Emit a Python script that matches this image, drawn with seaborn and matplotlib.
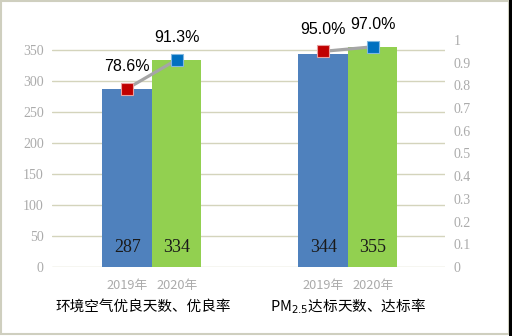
import matplotlib
matplotlib.use("Agg")
import matplotlib.pyplot as plt
import matplotlib.transforms as mtrans
from matplotlib.patches import Rectangle
import seaborn as sns
import pandas as pd

# ---- data ----
groups = ["环境空气优良天数、优良率", "PM$_{2.5}$达标天数、达标率"]
years = ["2019年", "2020年"]
days_2019 = [287, 344]
days_2020 = [334, 355]
rate_2019 = [0.786, 0.950]
rate_2020 = [0.913, 0.970]
rate_labels_2019 = ["78.6%", "95.0%"]
rate_labels_2020 = ["91.3%", "97.0%"]
left_ticks = [0, 50, 100, 150, 200, 250, 300, 350]
right_ticks = [0, 0.1, 0.2, 0.3, 0.4, 0.5, 0.6, 0.7, 0.8, 0.9, 1]
right_tick_labels = ["0", "0.1", "0.2", "0.3", "0.4", "0.5", "0.6", "0.7", "0.8", "0.9", "1"]

df = pd.DataFrame({
    "group": groups * 2,
    "year": [years[0]] * 2 + [years[1]] * 2,
    "days": days_2019 + days_2020,
})

sns.set_theme(style="white")
plt.rcParams["font.family"] = ["Noto Sans CJK SC", "DejaVu Sans"]

fig = plt.figure(figsize=(5.12, 3.36), dpi=100)
fig.patch.set_facecolor("white")
ax = fig.add_axes([52 / 512, 1 - 267 / 336, (445 - 52) / 512, (267 - 40) / 336])

palette = {years[0]: "#4F81BD", years[1]: "#92D050"}
sns.barplot(data=df, x="group", y="days", hue="year", order=groups, hue_order=years,
            palette=palette, width=0.505, saturation=1, ax=ax, legend=False, zorder=2,
            linewidth=0)

ax.set_xlim(-0.51, 1.495)
ax.set_ylim(0, 366)
ax.set_yticks(left_ticks)
ax.set_yticklabels([str(t) for t in left_ticks], family="Liberation Serif", fontsize=10, color="#ABABAB")
ax.tick_params(axis="y", length=0, pad=6)
ax.grid(axis="y", color="#D4D4BC", linewidth=1, zorder=0)
ax.set_axisbelow(True)
for s in ax.spines.values():
    s.set_visible(False)
ax.set_xlabel("")
ax.set_ylabel("")

# bar centers by hue
patches = [p for p in ax.patches if p.get_width() > 0]
centers_2019 = sorted([p.get_x() + p.get_width() / 2 for p in patches[:2]])
centers_2020 = sorted([p.get_x() + p.get_width() / 2 for p in patches[2:4]])

# year tick labels
xt = []
xl = []
for c19, c20 in zip(centers_2019, centers_2020):
    xt += [c19, c20]
    xl += years
ax.set_xticks(xt)
ax.set_xticklabels(xl, fontsize=9.2, color="#ABABAB")
ax.tick_params(axis="x", length=0, pad=9)

# value labels inside bars
trans = mtrans.blended_transform_factory(ax.transData, ax.transAxes)
for cs, vals in [(centers_2019, days_2019), (centers_2020, days_2020)]:
    for c, v in zip(cs, vals):
        ax.text(c, 19 / 227, str(v), transform=trans, ha="center", va="center",
                family="Liberation Serif", fontsize=13, color="#1a1a1a")

# group labels
label_shift = [-6.5, 0]
for i, g in enumerate(groups):
    ax.annotate(g, xy=(i, 0), xycoords=trans, xytext=(label_shift[i], -28.5), textcoords="offset points",
                ha="center", va="center", fontsize=10.5, color="black")

# secondary axis
ax2 = ax.twinx()
ax2.set_ylim(0, 1)
ax2.set_yticks(right_ticks)
ax2.set_yticklabels(right_tick_labels, family="Liberation Serif", fontsize=10, color="#ABABAB")
ax2.tick_params(axis="y", length=0, pad=6)
for s in ax2.spines.values():
    s.set_visible(False)
ax2.grid(False)

for i in range(len(groups)):
    xs = [centers_2019[i], centers_2020[i]]
    ys = [rate_2019[i], rate_2020[i]]
    ax2.plot(xs, ys, color="#A5A5A5", linewidth=2.3, zorder=3, solid_capstyle="butt")
    ax2.plot([xs[0]], [ys[0]], marker="s", markersize=8.5, color="#C00000",
             markeredgecolor="#E8A0A0", markeredgewidth=0.8, linestyle="none", zorder=4)
    ax2.plot([xs[1]], [ys[1]], marker="s", markersize=8.5, color="#0070C0",
             markeredgecolor="#80B8E0", markeredgewidth=0.8, linestyle="none", zorder=4)
    for x, y, lab in [(xs[0], ys[0], rate_labels_2019[i]), (xs[1], ys[1], rate_labels_2020[i])]:
        ax2.annotate(lab, xy=(x, y), xytext=(0, 16), textcoords="offset points",
                     ha="center", va="center", fontsize=11.5, color="black",
                     family=["Liberation Sans", "DejaVu Sans"], annotation_clip=False)

# frame
fig.patches.append(Rectangle((0.002, 0.006), 0.992, 0.99, transform=fig.transFigure,
                             fill=False, edgecolor="#CFCFBF", linewidth=1.5))
fig.patches.append(Rectangle((509 / 512, 0), 3 / 512, 1, transform=fig.transFigure,
                             facecolor="black", edgecolor="none"))

fig.savefig("out.png", dpi=100)
